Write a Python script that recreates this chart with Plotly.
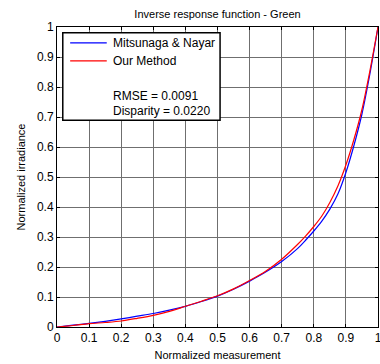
import plotly.graph_objects as go

# Data
x_vals = [0, 0.05, 0.1, 0.15, 0.2, 0.25, 0.3, 0.35, 0.4, 0.45, 0.5, 0.55, 0.6, 0.65, 0.7,
          0.75, 0.775, 0.8, 0.825, 0.85, 0.875, 0.9, 0.925, 0.95, 0.975, 1.0]
y_blue = [0, 0.006, 0.012, 0.019, 0.027, 0.036, 0.045, 0.056, 0.069, 0.085, 0.103, 0.126,
          0.153, 0.183, 0.218, 0.262, 0.29, 0.32, 0.353, 0.393, 0.443, 0.515, 0.605, 0.71,
          0.845, 1.0]
y_red = [0, 0.005, 0.011, 0.015, 0.020, 0.029, 0.039, 0.052, 0.069, 0.086, 0.104, 0.127,
         0.155, 0.186, 0.226, 0.276, 0.304, 0.335, 0.37, 0.415, 0.47, 0.54, 0.625, 0.725,
         0.855, 1.0]
tick_vals = [0, 0.1, 0.2, 0.3, 0.4, 0.5, 0.6, 0.7, 0.8, 0.9, 1.0]
tick_text = ["0", "0.1", "0.2", "0.3", "0.4", "0.5", "0.6", "0.7", "0.8", "0.9", "1"]
series_names = ["Mitsunaga & Nayar", "Our Method"]
stats_text = ["RMSE = 0.0091", "Disparity = 0.0220"]

FONT = "Liberation Sans, Arial, sans-serif"

fig = go.Figure()
fig.add_trace(go.Scatter(x=x_vals, y=y_blue, mode="lines", name=series_names[0],
                         line=dict(color="#0000ff", width=1.2, shape="spline", smoothing=0.8)))
fig.add_trace(go.Scatter(x=x_vals, y=y_red, mode="lines", name=series_names[1],
                         line=dict(color="#ff0000", width=1.2, shape="spline", smoothing=0.8)))

axis_common = dict(
    range=[0, 1], tickvals=tick_vals, ticktext=tick_text,
    showgrid=True, gridcolor="#6f6f6f", gridwidth=1,
    showline=True, linecolor="black", linewidth=1, mirror="ticks",
    ticks="inside", ticklen=3, tickcolor="black",
    tickfont=dict(size=12, color="black", family=FONT),
    zeroline=False, fixedrange=True, automargin=False,
    ticklabeloverflow="allow",
)

fig.update_layout(
    width=380, height=364,
    margin=dict(l=57, r=2, t=27, b=37),
    paper_bgcolor="white", plot_bgcolor="white",
    showlegend=False,
    font=dict(family=FONT, color="black"),
    title=dict(text="Inverse response function - Green", x=(57 + 378) / 2 / 380,
               xanchor="center", y=1 - 14 / 364, yanchor="middle",
               font=dict(size=11, family=FONT, color="black")),
    xaxis=dict(axis_common, title=dict(text="Normalized measurement", standoff=6,
                                       font=dict(size=11, family=FONT))),
    yaxis=dict(axis_common, title=dict(text="Normalized irradiance", standoff=9,
                                       font=dict(size=11, family=FONT))),
)

# Legend box (MATLAB style)
fig.add_shape(type="rect", xref="paper", yref="paper", x0=0.018, x1=0.508, y0=0.689, y1=0.981,
              line=dict(color="black", width=1.5), fillcolor="white", layer="above")
legend_colors = ["#0000ff", "#ff0000"]
legend_y = [0.947, 0.887]
for name, col, yy in zip(series_names, legend_colors, legend_y):
    fig.add_shape(type="line", xref="paper", yref="paper", x0=0.041, x1=0.155, y0=yy, y1=yy,
                  line=dict(color=col, width=1.2), layer="above")
    fig.add_annotation(xref="paper", yref="paper", x=0.168, y=yy, text=name, showarrow=False,
                       xanchor="left", yanchor="middle", font=dict(size=12, family=FONT, color="black"))
for txt, yy in zip(stats_text, [0.769, 0.719]):
    fig.add_annotation(xref="paper", yref="paper", x=0.168, y=yy, text=txt, showarrow=False,
                       xanchor="left", yanchor="middle", font=dict(size=12, family=FONT, color="black"))

fig.write_html("out.html", config={"displayModeBar": False},
               post_script="document.body.style.margin='0';")
